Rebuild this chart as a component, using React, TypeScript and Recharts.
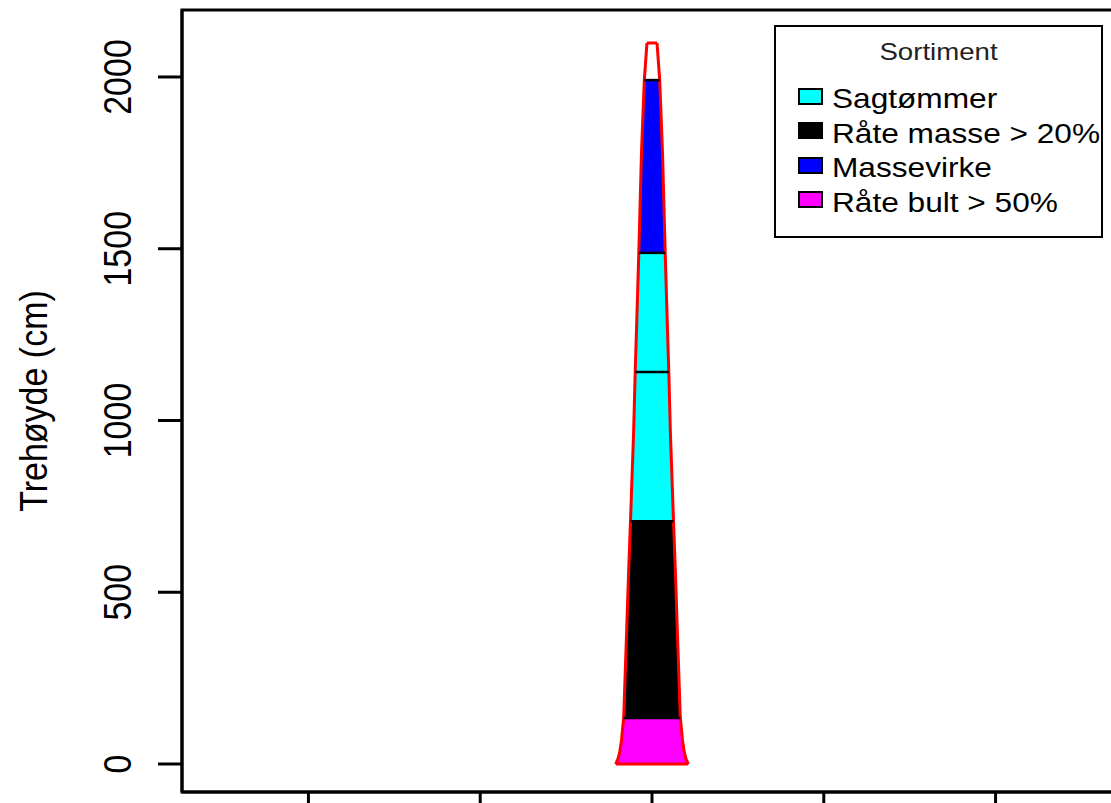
import React from 'react';
import { ComposedChart, Area, XAxis, YAxis, ReferenceLine, ReferenceArea } from 'recharts';

// Stem profile: height (cm) and half-diameter (x units)
const heights = [0, 15, 35, 70, 134, 390, 550, 707, 972, 1141, 1263, 1488, 1779, 1991, 2099];
const radii = [10.57, 9.9, 9.37, 8.88, 8.24, 7.37, 6.84, 6.26, 5.33, 4.89, 4.51, 3.84, 3.06, 2.24, 1.46];

// Log sections along the stem
const sectionStarts = [0, 134, 707, 1141, 1488, 1991];
const sectionEnds = [134, 707, 1141, 1488, 1991, 2099];
const sectionColors = ['#FF00FF', '#000000', '#00FFFF', '#00FFFF', '#0000FF', '#FFFFFF'];

// Legend
const legendTitle = 'Sortiment';
const legendLabels = ['Sagtømmer', 'Råte masse > 20%', 'Massevirke', 'Råte bult > 50%'];
const legendColors = ['#00FFFF', '#000000', '#0000FF', '#FF00FF'];

// Axes
const xTicks = [-100, -50, 0, 50, 100];
const yTicks = [0, 500, 1000, 1500, 2000];
const xDomain = [-136.8, 136.8];
const yDomain = [-81.5, 2195];
const yLabel = 'Trehøyde (cm)';

const FONT = '"Liberation Sans", Arial, Helvetica, sans-serif';

const rows = heights.map((h, i) => {
  const row: Record<string, any> = { h, stem: [-radii[i], radii[i]] };
  sectionStarts.forEach((s, k) => {
    row['s' + k] = h >= s && h <= sectionEnds[k] ? [-radii[i], radii[i]] : null;
  });
  return row;
});

const boundaries = sectionStarts.slice(1).map((b) => ({ h: b, r: radii[heights.indexOf(b)] }));

const YTick = (props: any) => {
  const { y, payload } = props;
  return (
    <text
      transform={`translate(131,${y}) scale(1.15,1) rotate(-90)`}
      textAnchor="middle"
      fontSize={34}
      fontFamily={FONT}
      fill="#000"
    >
      {payload.value}
    </text>
  );
};

// x tick labels lie below the visible page area
const XTick = () => <g />;

const YLabel = () => (
  <text
    transform={`translate(47,401) scale(1.15,1) rotate(-90)`}
    textAnchor="middle"
    fontSize={34}
    fontFamily={FONT}
    fill="#000"
  >
    {yLabel}
  </text>
);

export default function App() {
  const top = heights.length - 1;
  return (
    <div
      style={{
        position: 'absolute',
        left: 0,
        top: 0,
        width: 1111,
        height: 803,
        overflow: 'hidden',
        background: '#fff',
      }}
    >
      <ComposedChart
        width={1130}
        height={803}
        layout="vertical"
        data={rows}
        margin={{ top: 10, right: 8, bottom: 0, left: 0 }}
        style={{ overflow: 'visible' }}
      >
        <XAxis
          type="number"
          domain={xDomain}
          ticks={xTicks}
          interval={0}
          tick={<XTick />}
          tickSize={24}
          height={11}
          allowDataOverflow
          axisLine={{ stroke: '#000', strokeWidth: 3 }}
          tickLine={{ stroke: '#000', strokeWidth: 3 }}
        />
        <YAxis
          type="number"
          dataKey="h"
          domain={yDomain}
          ticks={yTicks}
          interval={0}
          reversed
          tick={<YTick />}
          tickSize={24}
          width={182}
          allowDataOverflow
          axisLine={{ stroke: '#000', strokeWidth: 3 }}
          tickLine={{ stroke: '#000', strokeWidth: 3 }}
          label={<YLabel />}
        />
        <ReferenceArea
          x1={xDomain[0]}
          x2={xDomain[1]}
          y1={yDomain[0]}
          y2={yDomain[1]}
          fill="none"
          stroke="#000"
          strokeWidth={3}
          ifOverflow="visible"
        />
        {sectionStarts.map((s, k) => (
          <Area
            key={'sec' + k}
            dataKey={'s' + k}
            type="linear"
            fill={sectionColors[k]}
            fillOpacity={1}
            stroke="none"
            dot={false}
            activeDot={false}
            isAnimationActive={false}
          />
        ))}
        {boundaries.map((b) => (
          <ReferenceLine
            key={'b' + b.h}
            segment={[
              { x: -b.r, y: b.h },
              { x: b.r, y: b.h },
            ]}
            stroke="#000"
            strokeWidth={2.5}
            ifOverflow="visible"
          />
        ))}
        <Area
          dataKey="stem"
          type="linear"
          fill="none"
          stroke="#FF0000"
          strokeWidth={3}
          strokeLinejoin="round"
          dot={false}
          activeDot={false}
          isAnimationActive={false}
        />
        <ReferenceLine
          segment={[
            { x: -radii[0], y: heights[0] },
            { x: radii[0], y: heights[0] },
          ]}
          stroke="#FF0000"
          strokeWidth={3}
          ifOverflow="visible"
        />
        <ReferenceLine
          segment={[
            { x: -radii[top], y: heights[top] },
            { x: radii[top], y: heights[top] },
          ]}
          stroke="#FF0000"
          strokeWidth={3}
          ifOverflow="visible"
        />
      </ComposedChart>
      <div
        style={{
          position: 'absolute',
          left: 774,
          top: 25,
          width: 329,
          height: 213,
          border: '2.5px solid #000',
          boxSizing: 'border-box',
          background: '#fff',
          fontFamily: FONT,
        }}
      >
        <div
          style={{
            position: 'absolute',
            left: 0,
            right: 0,
            top: 11,
            height: 28,
            lineHeight: '28px',
            fontSize: 24,
            textAlign: 'center',
            color: '#222',
            transform: 'scaleX(1.15)',
          }}
        >
          {legendTitle}
        </div>
        {legendLabels.map((lab, i) => (
          <div key={lab} style={{ position: 'absolute', left: 0, top: 55 + i * 34.5, height: 34, width: 330 }}>
            <div
              style={{
                position: 'absolute',
                left: 22,
                top: 5.5,
                width: 25,
                height: 17,
                background: legendColors[i],
                border: '2.5px solid #000',
                boxSizing: 'border-box',
              }}
            />
            <div
              style={{
                position: 'absolute',
                left: 56,
                top: 0,
                height: 34,
                lineHeight: '34px',
                fontSize: 27.5,
                color: '#000',
                whiteSpace: 'nowrap',
                transform: 'scaleX(1.15)',
                transformOrigin: 'left center',
              }}
            >
              {lab}
            </div>
          </div>
        ))}
      </div>
    </div>
  );
}
